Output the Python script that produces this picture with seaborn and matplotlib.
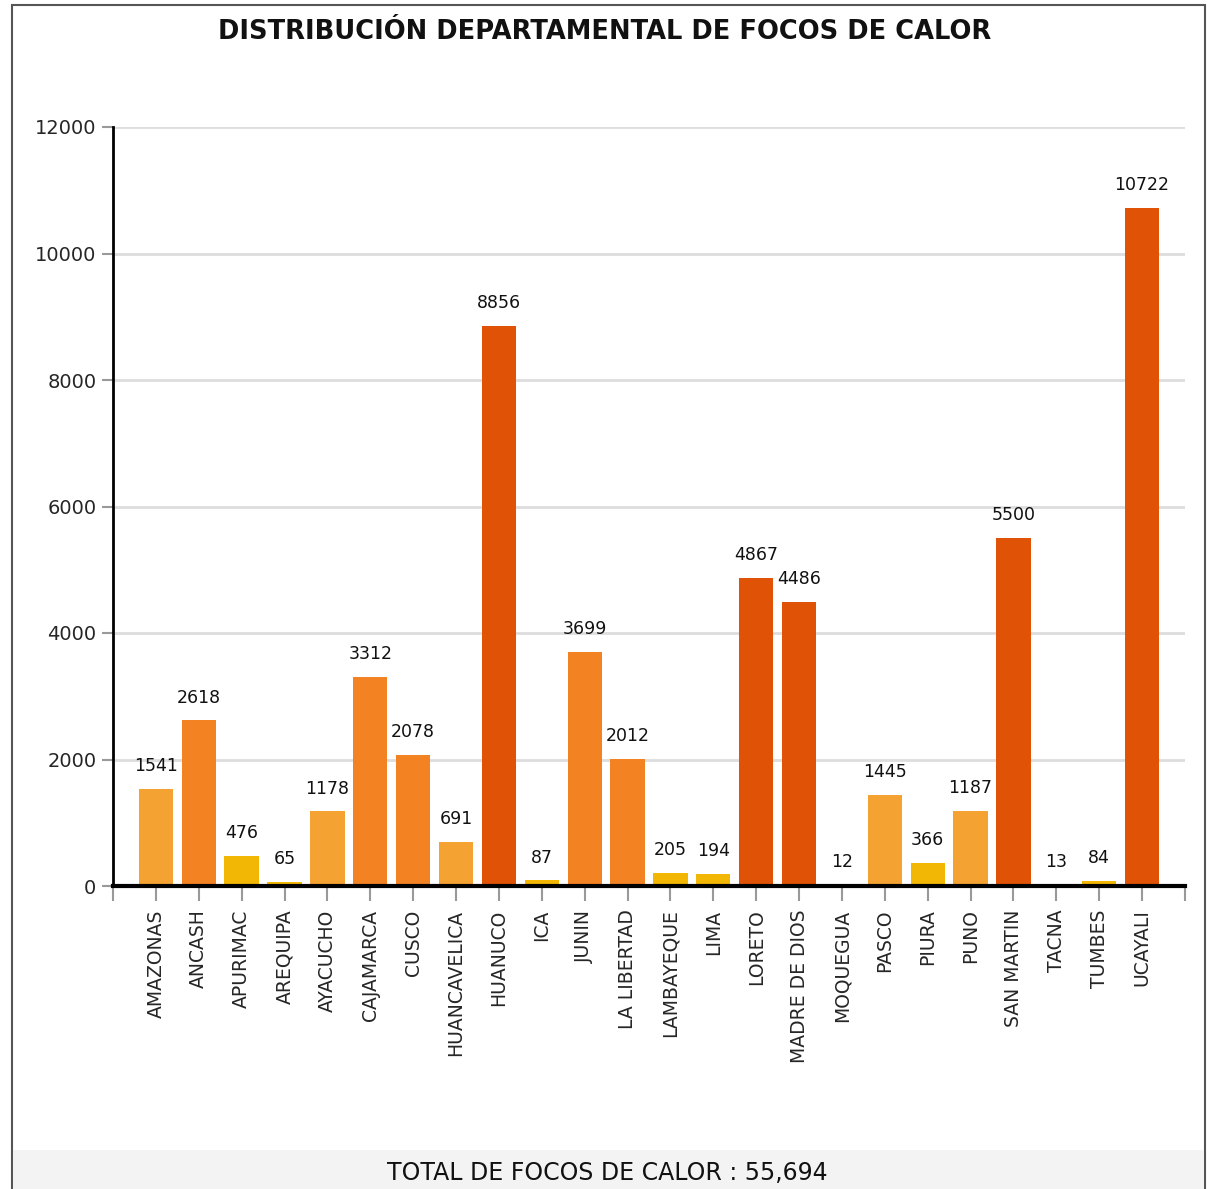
import matplotlib
matplotlib.use("Agg")
import matplotlib.pyplot as plt
import seaborn as sns
import pandas as pd
from matplotlib.patches import Rectangle

departamentos = ["AMAZONAS", "ANCASH", "APURIMAC", "AREQUIPA", "AYACUCHO", "CAJAMARCA",
                 "CUSCO", "HUANCAVELICA", "HUANUCO", "ICA", "JUNIN", "LA LIBERTAD",
                 "LAMBAYEQUE", "LIMA", "LORETO", "MADRE DE DIOS", "MOQUEGUA", "PASCO",
                 "PIURA", "PUNO", "SAN MARTIN", "TACNA", "TUMBES", "UCAYALI"]
focos = [1541, 2618, 476, 65, 1178, 3312, 2078, 691, 8856, 87, 3699, 2012,
         205, 194, 4867, 4486, 12, 1445, 366, 1187, 5500, 13, 84, 10722]
y_ticks = [0, 2000, 4000, 6000, 8000, 10000, 12000]

# colour class by range of hotspots
def nivel(v):
    if v < 500:
        return "bajo"
    if v < 2000:
        return "medio"
    if v < 4000:
        return "alto"
    return "muy alto"

colores = {"bajo": "#F2B705", "medio": "#F4A232", "alto": "#F28222", "muy alto": "#E05206"}

df = pd.DataFrame({"dep": departamentos, "focos": focos})
df["nivel"] = df["focos"].apply(nivel)

sns.set_style("white")
plt.rcParams["font.family"] = ["DejaVu Sans"]

W, H = 1208, 1189
fig = plt.figure(figsize=(W / 100, H / 100), dpi=100)
ax = fig.add_axes([113 / W, 1 - 886 / H, 1072 / W, 759 / H])

sns.barplot(data=df, x="dep", y="focos", hue="nivel", palette=colores,
            dodge=False, legend=False, width=0.8, saturation=1, ax=ax,
            order=departamentos, linewidth=0)

for cont in ax.containers:
    ax.bar_label(cont, fmt="%d", padding=10, fontsize=12.5, color="#111111")

ax.set_xlim(-1, 24)
ax.set_ylim(0, 12000)
ax.set_yticks(y_ticks)
ax.set_yticklabels([str(t) for t in y_ticks], fontsize=14)
ax.set_xticks(range(len(departamentos)))
ax.set_xticklabels(departamentos, rotation=90, fontsize=13.5)
ax.set_xticks([-1, 24], minor=True)
ax.tick_params(axis="x", which="both", direction="out", length=11, width=1.5,
               color="#999999", pad=6, bottom=True)
ax.tick_params(axis="y", direction="out", length=8, width=1.5, color="#999999",
               pad=4, left=True)
ax.set_xlabel("")
ax.set_ylabel("")
ax.grid(axis="y", color="#DDDDDD", linewidth=2)
ax.set_axisbelow(True)
for s in ["top", "right"]:
    ax.spines[s].set_visible(False)
ax.spines["left"].set_color("black")
ax.spines["left"].set_linewidth(2)
ax.spines["bottom"].set_color("black")
ax.spines["bottom"].set_linewidth(3)

# outer frame and footer band
fig.patches.append(Rectangle((12 / W, 0), 1193 / W, 1 - 5 / H, transform=fig.transFigure,
                             fill=False, edgecolor="#555555", linewidth=1.5))
fig.patches.append(Rectangle((13 / W, 0), 1191 / W, 39 / H, transform=fig.transFigure,
                             facecolor="#F3F3F3", edgecolor="none"))

fig.text(605 / W, 1 - 32 / H, "DISTRIBUCIÓN DEPARTAMENTAL DE FOCOS DE CALOR",
         ha="center", va="center", fontsize=18.5, fontweight="bold", color="#111111")
fig.text(607 / W, 1 - 1173 / H, "TOTAL DE FOCOS DE CALOR : 55,694",
         ha="center", va="center", fontsize=17, color="#111111")

fig.savefig("out.png", dpi=100)
